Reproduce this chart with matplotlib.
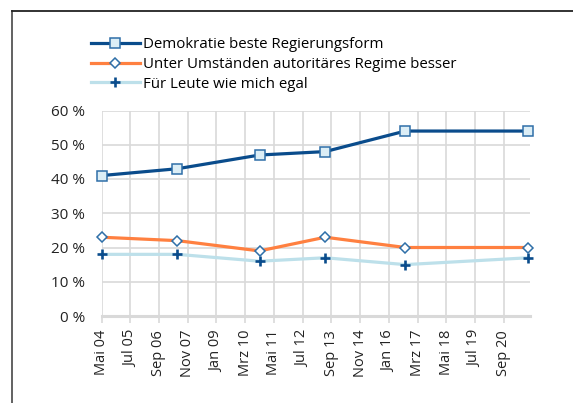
import matplotlib
matplotlib.use("Agg")
import matplotlib.pyplot as plt
from matplotlib.lines import Line2D

plt.rcParams['font.family'] = ['Open Sans', 'DejaVu Sans']

# months since May 2004
survey_months = [0, 37, 77, 109, 148, 208]
demokratie = [41, 43, 47, 48, 54, 54]
autoritaer = [23, 22, 19, 23, 20, 20]
egal = [18, 18, 16, 17, 15, 17]
series_names = ["Demokratie beste Regierungsform",
                "Unter Umständen autoritäres Regime besser",
                "Für Leute wie mich egal"]
tick_labels = ["Mai 04", "Jul 05", "Sep 06", "Nov 07", "Jan 09", "Mrz 10", "Mai 11",
               "Jul 12", "Sep 13", "Nov 14", "Jan 16", "Mrz 17", "Mai 18", "Jul 19", "Sep 20"]
y_ticks = [0, 10, 20, 30, 40, 50, 60]

W, H = 573, 403
fig = plt.figure(figsize=(W / 100, H / 100), dpi=100)
ax = fig.add_axes([101.5 / W, (H - 316) / H, (530 - 101.5) / W, (316 - 110.5) / H])

dark = "#0A4C8C"
orange = "#FF8040"
light = "#BDE0EA"
face = "#DCEEF6"
medge = "#2F6FA8"
grid = "#D9D9D9"

LW = 2.3
sq = dict(color=dark, lw=LW, marker="s", ms=6.5, mfc=face, mec=medge, mew=1.1)
di = dict(color=orange, lw=LW, marker="D", ms=4.8, mfc="white", mec=medge, mew=1.1)
pl = dict(color=light, lw=LW, marker="+", ms=7, mec=dark, mew=1.9)

ax.plot(survey_months, demokratie, zorder=5, clip_on=False, **sq)
ax.plot(survey_months, autoritaer, zorder=4, clip_on=False, **di)
ax.plot(survey_months, egal, zorder=3, clip_on=False, **pl)

ax.set_xlim(0, 208.8)
ax.set_ylim(0, 60)
ax.set_yticks(y_ticks)
ax.set_yticklabels([f"{v} %" for v in y_ticks], fontsize=11, color="#222222")
xt = [14 * i for i in range(len(tick_labels))]
ax.set_xticks(xt)
ax.set_xticklabels(tick_labels, rotation=90, fontsize=10.5, color="#222222")
ax.tick_params(axis="y", length=0, pad=12)
ax.tick_params(axis="x", length=5, width=1.2, color=grid, pad=5)
ax.grid(True, color=grid, lw=1.2, zorder=0)
ax.set_axisbelow(True)
for s in ["top", "right", "left"]:
    ax.spines[s].set_visible(False)
ax.spines["bottom"].set_color(grid)
ax.spines["bottom"].set_linewidth(2.2)

handles = [Line2D([], [], **sq), Line2D([], [], **di), Line2D([], [], **pl)]
fig.legend(handles, series_names, loc="upper left",
           bbox_to_anchor=(83 / W, 1 - 30 / H), frameon=False, fontsize=10.8,
           handlelength=3.3, handletextpad=0.2, labelspacing=0.3, borderpad=0)

# figure frame (left and top edges visible)
fig.add_artist(Line2D([12 / W, 12 / W], [0, 1 - 11 / H], transform=fig.transFigure,
                      color="#555555", lw=1.3))
fig.add_artist(Line2D([12 / W, 1], [1 - 11 / H, 1 - 11 / H], transform=fig.transFigure,
                      color="#222222", lw=1.3))

fig.savefig("out.png", dpi=100)
